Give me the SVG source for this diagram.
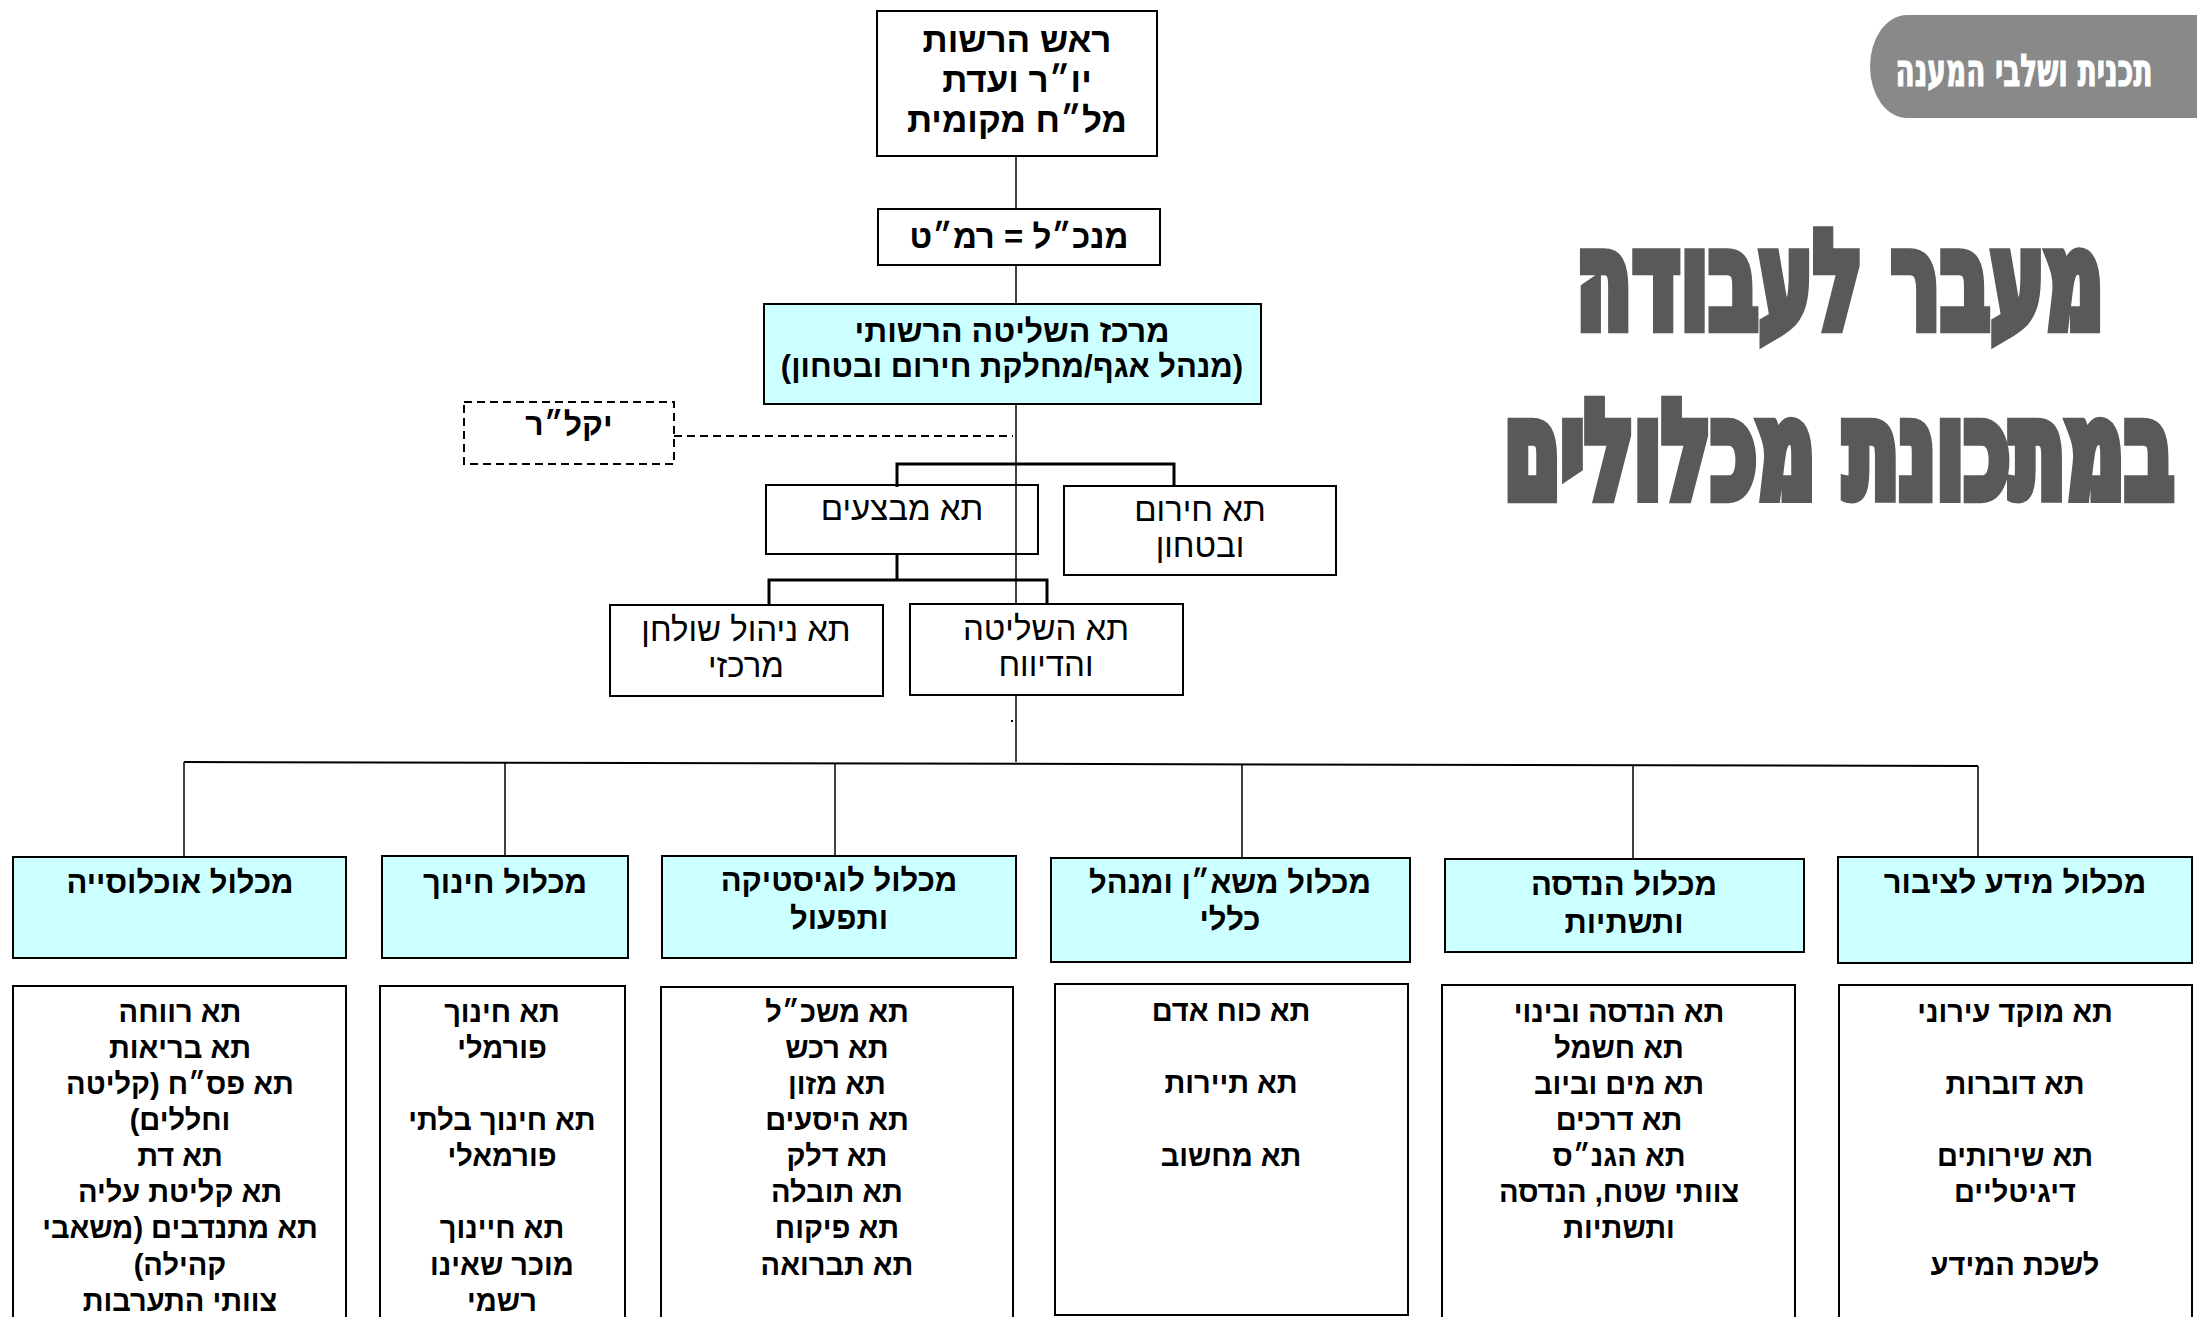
<svg xmlns="http://www.w3.org/2000/svg" width="2197" height="1317" viewBox="0 0 2197 1317">
<style>
text{font-family:"Liberation Sans","DejaVu Sans",sans-serif;text-anchor:middle;direction:rtl;fill:#000}
.box{fill:#fff;stroke:#000;stroke-width:2}
.cy{fill:#CCFFFF;stroke:#000;stroke-width:2}
.dash{fill:#fff;stroke:#000;stroke-width:2;stroke-dasharray:8 5}
.b28{font-size:35px;font-weight:bold}
.b26{font-size:32px;font-weight:bold}
.hdr{font-size:31px;font-weight:bold}
.lst{font-size:29px;font-weight:bold}
.reg{font-size:33px;font-weight:normal}
.ln{stroke:#000;stroke-width:1.5;fill:none}
.thk{stroke:#000;stroke-width:3;fill:none}
.dl{stroke:#000;stroke-width:2;stroke-dasharray:8 5;fill:none}
.title{font-family:"DejaVu Sans","Liberation Sans",sans-serif;font-weight:bold;fill:#595959;stroke:#595959;stroke-width:6;stroke-linejoin:miter}
.pilltxt{font-family:"DejaVu Sans","Liberation Sans",sans-serif;font-weight:bold;fill:#fff;stroke:#fff;stroke-width:0.6}
</style>

<g id="connectors">
<line class="ln" x1="1016" y1="156" x2="1016" y2="209"/>
<line class="ln" x1="1016" y1="265" x2="1016" y2="304"/>
<line class="ln" x1="1016" y1="404" x2="1016" y2="604"/>
<line class="dl" x1="674" y1="436" x2="1013" y2="436"/>
<path class="thk" d="M897,487 V464 H1174 V487"/>
<line class="thk" x1="897" y1="554" x2="897" y2="580"/>
<path class="thk" d="M769,605 V580 H1047 V604"/>
<line class="ln" x1="1016" y1="695" x2="1016" y2="762"/>
<rect x="1011" y="720" width="2" height="2" fill="#000"/>
<line x1="184" y1="762" x2="1978" y2="766" stroke="#000" stroke-width="2"/>
<line class="ln" x1="184" y1="762" x2="184" y2="857"/>
<line class="ln" x1="505" y1="763" x2="505" y2="856"/>
<line class="ln" x1="835" y1="764" x2="835" y2="856"/>
<line class="ln" x1="1242" y1="765" x2="1242" y2="858"/>
<line class="ln" x1="1633" y1="766" x2="1633" y2="859"/>
<line class="ln" x1="1978" y1="766" x2="1978" y2="857"/>
</g>

<g id="pill">
<path d="M2197,15 L1907,15 A37,51.5 0 0 0 1907,118 L2197,118 Z" fill="#898989"/>
<text class="pilltxt" transform="translate(2024,86) scale(1,2.05)" x="0" y="0" font-size="22" textLength="257" lengthAdjust="spacingAndGlyphs">תכנית ושלבי המענה</text>
</g>

<g id="title">
<text class="title" transform="translate(1840,327) scale(1,1.92)" x="0" y="0" font-size="70" textLength="528" lengthAdjust="spacingAndGlyphs">מעבר לעבודה</text>
<text class="title" transform="translate(1839,497) scale(1,2.08)" x="0" y="0" font-size="64" textLength="670" lengthAdjust="spacingAndGlyphs">במתכונת מכלולים</text>
</g>

<g id="n-head">
<rect class="box" x="877" y="11" width="280" height="145"/>
<text class="b28" x="1017" y="52">ראש הרשות</text>
<text class="b28" x="1017" y="92">יו״ר ועדת</text>
<text class="b28" x="1017" y="132">מל״ח מקומית</text>
</g>

<g id="n-ceo">
<rect class="box" x="878" y="209" width="282" height="56"/>
<text class="b28" x="1019" y="248" style="font-size:33px">מנכ״ל = רמ״ט</text>
</g>

<g id="n-control">
<rect class="cy" x="764" y="304" width="497" height="100"/>
<text class="b26" x="1012" y="342">מרכז השליטה הרשותי</text>
<text class="b26" x="1012" y="377" style="font-size:31px">(מנהל אגף/מחלקת חירום ובטחון)</text>
</g>

<g id="n-yaklar">
<rect class="dash" x="464" y="402" width="210" height="62"/>
<text class="b26" x="569" y="435">יקל״ר</text>
</g>

<g id="n-ops">
<rect class="box" x="766" y="485" width="272" height="69" style="fill:none"/>
<text class="reg" x="902" y="520">תא מבצעים</text>
</g>

<g id="n-emergency">
<rect class="box" x="1064" y="486" width="272" height="89"/>
<text class="reg" x="1200" y="521">תא חירום</text>
<text class="reg" x="1200" y="557">ובטחון</text>
</g>

<g id="n-desk">
<rect class="box" x="610" y="605" width="273" height="91"/>
<text class="reg" x="746" y="641">תא ניהול שולחן</text>
<text class="reg" x="746" y="677">מרכזי</text>
</g>

<g id="n-report">
<rect class="box" x="910" y="604" width="273" height="91"/>
<text class="reg" x="1046" y="640">תא השליטה</text>
<text class="reg" x="1046" y="676">והדיווח</text>
</g>

<g id="h-population">
<rect class="cy" x="13" y="857" width="333" height="101"/>
<text class="hdr" x="180" y="893">מכלול אוכלוסייה</text>
</g>
<g id="h-education">
<rect class="cy" x="382" y="856" width="246" height="102"/>
<text class="hdr" x="505" y="893">מכלול חינוך</text>
</g>
<g id="h-logistics">
<rect class="cy" x="662" y="856" width="354" height="102"/>
<text class="hdr" x="839" y="891">מכלול לוגיסטיקה</text>
<text class="hdr" x="839" y="929">ותפעול</text>
</g>
<g id="h-hr">
<rect class="cy" x="1051" y="858" width="359" height="104"/>
<text class="hdr" x="1230" y="893">מכלול משא״ן ומנהל</text>
<text class="hdr" x="1230" y="930">כללי</text>
</g>
<g id="h-engineering">
<rect class="cy" x="1445" y="859" width="359" height="93"/>
<text class="hdr" x="1624" y="895">מכלול הנדסה</text>
<text class="hdr" x="1624" y="933">ותשתיות</text>
</g>
<g id="h-info">
<rect class="cy" x="1838" y="857" width="354" height="106"/>
<text class="hdr" x="2015" y="893">מכלול מידע לציבור</text>
</g>

<g id="l-population">
<rect class="box" x="13" y="986" width="333" height="350"/>
<text class="lst" x="180" y="1022">תא רווחה</text>
<text class="lst" x="180" y="1058">תא בריאות</text>
<text class="lst" x="180" y="1094">תא פס״ח (קליטה</text>
<text class="lst" x="180" y="1130">וחללים)</text>
<text class="lst" x="180" y="1166">תא דת</text>
<text class="lst" x="180" y="1202">תא קליטת עליה</text>
<text class="lst" x="180" y="1238">תא מתנדבים (משאבי</text>
<text class="lst" x="180" y="1275">קהילה)</text>
<text class="lst" x="180" y="1311">צוותי התערבות</text>
</g>
<g id="l-education">
<rect class="box" x="380" y="986" width="245" height="350"/>
<text class="lst" x="502" y="1022">תא חינוך</text>
<text class="lst" x="502" y="1058">פורמלי</text>
<text class="lst" x="502" y="1130">תא חינוך בלתי</text>
<text class="lst" x="502" y="1166">פורמאלי</text>
<text class="lst" x="502" y="1238">תא חיינוך</text>
<text class="lst" x="502" y="1275">מוכר שאינו</text>
<text class="lst" x="502" y="1311">רשמי</text>
</g>
<g id="l-logistics">
<rect class="box" x="661" y="987" width="352" height="350"/>
<text class="lst" x="837" y="1022">תא משכ״ל</text>
<text class="lst" x="837" y="1058">תא רכש</text>
<text class="lst" x="837" y="1094">תא מזון</text>
<text class="lst" x="837" y="1130">תא היסעים</text>
<text class="lst" x="837" y="1166">תא דלק</text>
<text class="lst" x="837" y="1202">תא תובלה</text>
<text class="lst" x="837" y="1238">תא פיקוח</text>
<text class="lst" x="837" y="1275">תא תברואה</text>
</g>
<g id="l-hr">
<rect class="box" x="1055" y="984" width="353" height="331"/>
<text class="lst" x="1231" y="1021">תא כוח אדם</text>
<text class="lst" x="1231" y="1093">תא תיירות</text>
<text class="lst" x="1231" y="1166">תא מחשוב</text>
</g>
<g id="l-engineering">
<rect class="box" x="1442" y="985" width="353" height="350"/>
<text class="lst" x="1619" y="1022">תא הנדסה ובינוי</text>
<text class="lst" x="1619" y="1058">תא חשמל</text>
<text class="lst" x="1619" y="1094">תא מים וביוב</text>
<text class="lst" x="1619" y="1130">תא דרכים</text>
<text class="lst" x="1619" y="1166">תא הגנ״ס</text>
<text class="lst" x="1619" y="1202">צוותי שטח, הנדסה</text>
<text class="lst" x="1619" y="1238">ותשתיות</text>
</g>
<g id="l-info">
<rect class="box" x="1839" y="985" width="353" height="350"/>
<text class="lst" x="2015" y="1022">תא מוקד עירוני</text>
<text class="lst" x="2015" y="1094">תא דוברות</text>
<text class="lst" x="2015" y="1166">תא שירותים</text>
<text class="lst" x="2015" y="1202">דיגיטליים</text>
<text class="lst" x="2015" y="1275">לשכת המידע</text>
</g>
</svg>
